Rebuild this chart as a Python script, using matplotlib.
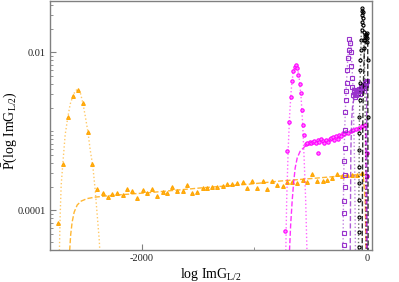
import numpy as np
from matplotlib import pyplot as plt

plt.rcParams['font.family'] = ['Liberation Serif', 'DejaVu Serif']
plt.rcParams['mathtext.fontset'] = 'custom'
plt.rcParams['mathtext.rm'] = 'Liberation Serif'
plt.rcParams['mathtext.it'] = 'Liberation Serif:italic'
plt.rcParams['axes.unicode_minus'] = False

# orange (largest L): histogram points, gaussian fit (dotted), tail fit (dashed)
orange_x = [-2740, -2696, -2652, -2607, -2563, -2519, -2474, -2434, -2390, -2345,
            -2301, -2257, -2213, -2168, -2124, -2080, -2036, -1991, -1947, -1903,
            -1859, -1814, -1770, -1726, -1682, -1637, -1593, -1549, -1505, -1460,
            -1416, -1372, -1328, -1283, -1239, -1195, -1151, -1106, -1062, -1018,
            -974, -929, -885, -841, -797, -752, -708, -664, -620, -575,
            -531, -487, -443, -398, -354, -310, -266, -221, -177, -133,
            -89, -44]
orange_y = [7.0e-5, 3.9e-4, 1.50e-3, 2.8e-3, 3.3e-3, 2.26e-3, 9.9e-4, 3.85e-4, 1.86e-4, 1.67e-4,
            1.46e-4, 1.61e-4, 1.64e-4, 1.55e-4, 1.88e-4, 1.77e-4, 1.42e-4, 1.81e-4, 1.66e-4, 1.88e-4,
            1.53e-4, 1.69e-4, 1.64e-4, 1.95e-4, 1.75e-4, 1.75e-4, 2.11e-4, 1.67e-4, 1.69e-4, 1.90e-4,
            1.93e-4, 1.95e-4, 1.99e-4, 2.05e-4, 2.13e-4, 2.15e-4, 2.20e-4, 2.30e-4, 1.90e-4, 2.33e-4,
            1.93e-4, 2.37e-4, 1.85e-4, 2.37e-4, 2.09e-4, 2.05e-4, 2.30e-4, 2.30e-4, 2.20e-4, 2.40e-4,
            2.30e-4, 2.90e-4, 2.35e-4, 2.35e-4, 2.40e-4, 2.55e-4, 2.86e-4, 2.74e-4, 2.80e-4, 2.77e-4,
            2.77e-4, 2.94e-4]
orange_fit_x = [-2728, -2720, -2711, -2696, -2676, -2652, -2631, -2607, -2587, -2563,
                -2543, -2519, -2498, -2474, -2454, -2430, -2410, -2392, -2374, -2366]
orange_fit_y = [2.5e-5, 8.7e-5, 2.09e-4, 3.97e-4, 8.98e-4, 1.52e-3, 2.22e-3, 2.80e-3, 3.24e-3, 3.43e-3,
                3.14e-3, 2.28e-3, 1.56e-3, 9.8e-4, 5.8e-4, 3.53e-4, 1.81e-4, 8.7e-5, 4.2e-5, 2.5e-5]
orange_tail_x = [-2640, -2627, -2614, -2596, -2569, -2534, -2481, -2410, -2277, -1923,
                 -1481, -1038, -773, -507, -242, -82, -38, -20, -12]
orange_tail_y = [2.5e-5, 4.9e-5, 7.1e-5, 9.5e-5, 1.17e-4, 1.31e-4, 1.41e-4, 1.47e-4, 1.54e-4, 1.68e-4,
                 1.92e-4, 2.15e-4, 2.35e-4, 2.52e-4, 2.72e-4, 2.84e-4, 2.88e-4, 1.35e-4, 2.5e-5]

# magenta
magenta_x = [-731, -708, -693, -681, -669, -655, -644, -634, -622, -611,
             -600, -589, -581, -572, -558, -543, -531, -513, -498, -483,
             -469, -454, -439, -425, -410, -395, -381, -366, -350, -336,
             -321, -306, -292, -277, -262, -248, -233, -218, -204, -189,
             -168, -147, -124, -100, -76, -50, -20, -434, 0, 0]
magenta_y = [5.5e-5, 5.6e-4, 1.31e-3, 2.72e-3, 4.33e-3, 5.8e-3, 6.5e-3, 7.0e-3, 6.3e-3, 5.2e-3,
             4.0e-3, 3.05e-3, 1.86e-3, 1.20e-3, 9.0e-4, 6.85e-4, 7.2e-4, 7.4e-4, 7.1e-4, 7.3e-4,
             7.6e-4, 7.1e-4, 7.8e-4, 7.4e-4, 7.9e-4, 7.6e-4, 7.2e-4, 7.8e-4, 7.4e-4, 8.1e-4,
             8.3e-4, 8.5e-4, 7.8e-4, 8.8e-4, 8.1e-4, 8.9e-4, 8.7e-4, 9.4e-4, 9.2e-4, 9.9e-4,
             9.6e-4, 1.01e-3, 1.04e-3, 1.06e-3, 1.09e-3, 1.17e-3, 1.20e-3, 5.3e-4, 5.4e-4, 2.7e-4]
magenta_fit_x = [-724, -715, -702, -689, -675, -658, -640, -622, -604, -587, -573, -560, -547, -534]
magenta_fit_y = [2.5e-5, 1.35e-4, 5.8e-4, 1.61e-3, 3.33e-3, 5.6e-3, 7.1e-3, 6.7e-3, 4.7e-3, 2.64e-3,
                 1.20e-3, 4.3e-4, 1.35e-4, 2.5e-5]
magenta_tail_x = [-693, -680, -666, -653, -640, -622, -596, -551, -463, -330, -197, -65, -16, -7]
magenta_tail_y = [2.5e-5, 6.5e-5, 1.35e-4, 2.28e-4, 3.43e-4, 4.6e-4, 5.6e-4, 6.5e-4, 7.0e-4, 7.8e-4,
                  9.0e-4, 1.07e-3, 1.13e-3, 2.5e-5]

# purple
purple_x = [-212, -206, -204, -204, -200, -200, -204, -197, -197, -195,
            -191, -189, -184, -177, -168, -162, -162, -153, -147, -142,
            -138, -133, -127, -118, -109, -100, -91, -82, -73, -65,
            -56, -47, -38, -29, -20, -12, -3, -122, -104, -86, -69, -51, -33, -16]
purple_y = [3.6e-5, 5.2e-5, 9.2e-5, 1.31e-4, 1.97e-4, 2.8e-4, 4.2e-4, 6.15e-4, 1.04e-3, 1.75e-3,
            2.49e-3, 3.24e-3, 4.1e-3, 6.0e-3, 8.5e-3, 1.07e-2, 1.47e-2, 1.31e-2, 1.01e-2, 6.7e-3,
            4.7e-3, 3.64e-3, 2.88e-3, 3.14e-3, 2.72e-3, 3.05e-3, 3.33e-3, 2.96e-3, 3.43e-3, 3.24e-3,
            3.64e-3, 3.53e-3, 3.85e-3, 3.74e-3, 4.1e-3, 4.2e-3, 4.3e-3, 3.3e-3, 2.9e-3, 3.1e-3,
            3.0e-3, 3.3e-3, 3.5e-3, 3.9e-3]
purple_fit_x = [-217, -211, -202, -189, -175, -162, -153, -144, -131, -122, -113, -106]
purple_fit_y = [2.5e-5, 2.42e-4, 1.04e-3, 3.33e-3, 8.0e-3, 1.35e-2, 1.43e-2, 1.07e-2, 4.46e-3, 1.39e-3,
                3.24e-4, 2.5e-5]
purple_tail_x = [-153, -150, -147, -140, -131, -118, -91, -56, -20, -7, -3]
purple_tail_y = [2.5e-5, 1.35e-4, 5.8e-4, 1.39e-3, 2.15e-3, 2.64e-3, 2.96e-3, 3.33e-3, 3.74e-3,
                 3.97e-3, 2.5e-5]

# black (smallest L)
black_x = [-73, -73, -73, -73, -73, -72, -72, -71, -71, -69,
           -67, -65, -62, -58, -54, -51, -50, -49, -47, -44,
           -42, -40, -38, -35, -32, -29, -25, -20, -16, -12,
           -9, -5, -3, 0, 6, 9]
black_y = [3.4e-5, 5.3e-5, 8.2e-5, 1.35e-4, 2.22e-4, 3.53e-4, 5.8e-4, 9.5e-4, 1.52e-3, 2.49e-3,
           4.1e-3, 6.0e-3, 8.0e-3, 1.07e-2, 1.43e-2, 1.92e-2, 2.42e-2, 2.97e-2, 3.33e-2, 3.64e-2,
           3.24e-2, 2.72e-2, 2.22e-2, 1.81e-2, 1.43e-2, 1.13e-2, 1.43e-2, 1.61e-2, 1.71e-2, 1.56e-2,
           1.66e-2, 1.76e-2, 1.52e-2, 1.35e-2, 8.0e-3, 1.52e-3]
black_fit_x = [-80, -75, -71, -63, -54, -45, -36, -27, -20, -15, -12]
black_fit_y = [2.5e-5, 2.42e-4, 1.39e-3, 6.0e-3, 1.92e-2, 3.64e-2, 2.22e-2, 8.0e-3, 1.86e-3, 2.42e-4, 2.5e-5]
black_tail_x = [-47, -44, -41, -35, -29, -20, -7, 2, 6]
black_tail_y = [2.5e-5, 2.42e-4, 1.39e-3, 4.46e-3, 9.2e-3, 1.31e-2, 1.43e-2, 1.43e-2, 2.5e-5]

fig = plt.figure(figsize=(3.99, 2.82), dpi=100)
ax = fig.add_axes([0.1253, 0.1135, 0.807, 0.883])

series = [
    (orange_x, orange_y, orange_fit_x, orange_fit_y, orange_tail_x, orange_tail_y,
     '#ffa500', '^', '#ffb020', '#ffa500', 2.7),
    (magenta_x, magenta_y, magenta_fit_x, magenta_fit_y, magenta_tail_x, magenta_tail_y,
     '#ff00ff', 'o', '#ff80ff', '#ff00ff', 2.4),
    (purple_x, purple_y, purple_fit_x, purple_fit_y, purple_tail_x, purple_tail_y,
     '#9932cc', 's', 'none', '#9932cc', 2.4),
    (black_x, black_y, black_fit_x, black_fit_y, black_tail_x, black_tail_y,
     '#000000', 'o', 'none', '#000000', 2.2),
]

for x, y, fx, fy, tx, ty, col, mk, mfc, mec, ms in series:
    ax.plot(fx, fy, ':', color=col, lw=1.0, alpha=0.6)
    ax.plot(tx, ty, '--', color=col, lw=1.0, alpha=0.8)
    ax.plot(x, y, ls='none', marker=mk, ms=ms, mfc=mfc, mec=mec, mew=0.8)

ax.set_yscale('log')

ax.set_xticks([-2000, 0])
ax.set_xticklabels(['-2000', '0'])
ax.set_xticks([-1000], minor=True)
ax.set_yticks([1e-4, 1e-2])
ax.set_yticklabels(['0.0001', '0.01'])
minor = [m * 10.0 ** e for e in (-5, -4, -3, -2) for m in range(1, 10)]
minor = [v for v in minor if v not in (1e-4, 1e-2)]
ax.set_yticks(minor, minor=True)
ax.yaxis.set_minor_formatter(plt.NullFormatter())

# limits after the ticks, set_yticks would widen them
ax.set_xlim(-2810, 40)
ax.set_ylim(3.15e-5, 0.0447)

ax.tick_params(which='both', direction='in', colors='#808080', labelcolor='#222222',
               labelsize=7.5, top=False, right=False)
ax.tick_params(which='major', length=4, width=0.8, pad=3)
ax.tick_params(which='minor', length=2.5, width=0.6)

for s in ax.spines.values():
    s.set_color('#808080')
    s.set_linewidth(1.0)

ax.set_xlabel(r'log ImG$_{\mathrm{L/2}}$', fontsize=10, labelpad=2)
ax.set_ylabel(r'$\bar{\mathrm{P}}$(log ImG$_{\mathrm{L/2}}$)', fontsize=10)
ax.yaxis.set_label_coords(-0.095, 0.48)

fig.savefig('out.png', dpi=100)
